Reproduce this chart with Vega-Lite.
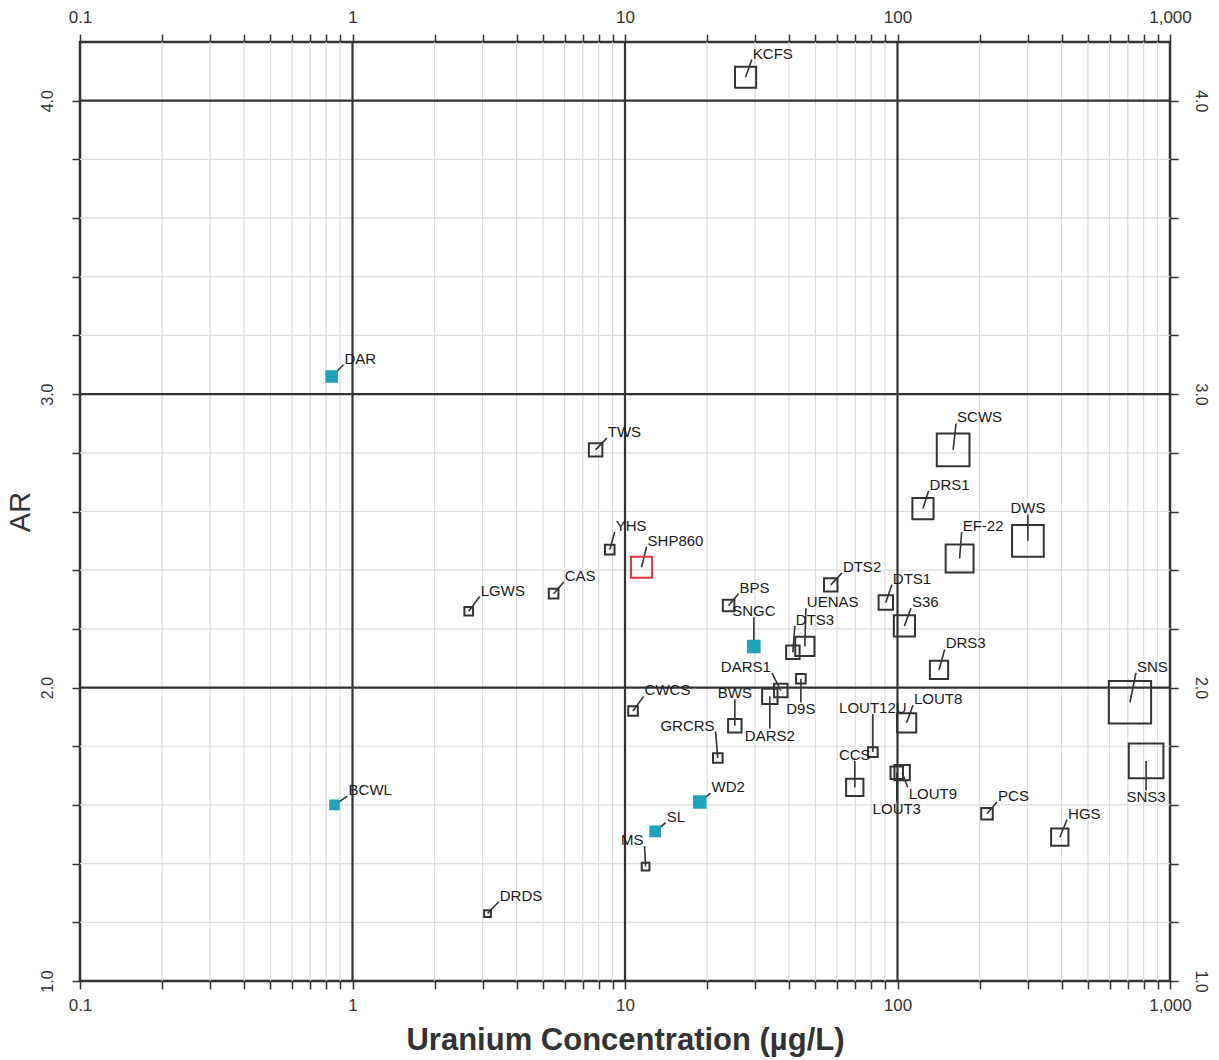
{
  "$schema": "https://vega.github.io/schema/vega-lite/v6.json",
  "width": 1090,
  "height": 939,
  "autosize": "none",
  "padding": {"left": 80, "top": 42, "right": 49, "bottom": 79},
  "background": "white",
  "config": {
    "view": {"stroke": "#333333", "strokeWidth": 2.5},
    "axis": {
      "labelFont": "Liberation Sans",
      "titleFont": "Liberation Sans",
      "labelColor": "#333333",
      "titleColor": "#333333",
      "tickColor": "#333333",
      "tickWidth": 1.5,
      "tickSize": 8,
      "domain": false,
      "grid": false,
      "labelFontSize": 17,
      "labelOverlap": false,
      "labelBound": false,
      "labelFlush": false
    }
  },
  "datasets": {
    "xminor": [
      {"v": 0.2}, {"v": 0.3}, {"v": 0.4}, {"v": 0.5}, {"v": 0.6}, {"v": 0.7}, {"v": 0.8}, {"v": 0.9},
      {"v": 2}, {"v": 3}, {"v": 4}, {"v": 5}, {"v": 6}, {"v": 7}, {"v": 8}, {"v": 9},
      {"v": 20}, {"v": 30}, {"v": 40}, {"v": 50}, {"v": 60}, {"v": 70}, {"v": 80}, {"v": 90},
      {"v": 200}, {"v": 300}, {"v": 400}, {"v": 500}, {"v": 600}, {"v": 700}, {"v": 800}, {"v": 900}
    ],
    "xmajor": [{"v": 1}, {"v": 10}, {"v": 100}],
    "yminor": [
      {"v": 1.2}, {"v": 1.4}, {"v": 1.6}, {"v": 1.8},
      {"v": 2.2}, {"v": 2.4}, {"v": 2.6}, {"v": 2.8},
      {"v": 3.2}, {"v": 3.4}, {"v": 3.6}, {"v": 3.8}
    ],
    "ymajor": [{"v": 2}, {"v": 3}, {"v": 4}],
    "sites": [
      {"site": "KCFS", "conc": 27.7, "ar": 4.08, "magnitude": 22, "kind": "open", "lx": 29.2, "ly": 4.14},
      {"site": "DAR", "conc": 0.838, "ar": 3.06, "magnitude": 11, "kind": "cyan", "lx": 0.927, "ly": 3.10},
      {"site": "TWS", "conc": 7.80, "ar": 2.81, "magnitude": 14, "kind": "open", "lx": 8.57, "ly": 2.85},
      {"site": "YHS", "conc": 8.79, "ar": 2.47, "magnitude": 10, "kind": "open", "lx": 9.17, "ly": 2.53},
      {"site": "SHP860", "conc": 11.5, "ar": 2.41, "magnitude": 22, "kind": "red", "lx": 12.0, "ly": 2.48},
      {"site": "CAS", "conc": 5.47, "ar": 2.32, "magnitude": 10, "kind": "open", "lx": 5.96, "ly": 2.36},
      {"site": "LGWS", "conc": 2.67, "ar": 2.26, "magnitude": 9, "kind": "open", "lx": 2.93, "ly": 2.31},
      {"site": "BPS", "conc": 24.0, "ar": 2.28, "magnitude": 12, "kind": "open", "lx": 26.1, "ly": 2.32},
      {"site": "SNGC", "conc": 29.7, "ar": 2.14, "magnitude": 12, "kind": "cyan", "lx": 29.7, "ly": 2.24},
      {"site": "DTS2", "conc": 56.9, "ar": 2.35, "magnitude": 14, "kind": "open", "lx": 62.5, "ly": 2.39},
      {"site": "UENAS", "conc": 45.7, "ar": 2.14, "magnitude": 20, "kind": "open", "lx": 46.1, "ly": 2.27},
      {"site": "DTS3", "conc": 41.3, "ar": 2.12, "magnitude": 14, "kind": "open", "lx": 42.0, "ly": 2.21},
      {"site": "DTS1", "conc": 90.6, "ar": 2.29, "magnitude": 15, "kind": "open", "lx": 95.3, "ly": 2.35},
      {"site": "S36", "conc": 106, "ar": 2.21, "magnitude": 22, "kind": "open", "lx": 112, "ly": 2.27},
      {"site": "DRS3", "conc": 142, "ar": 2.06, "magnitude": 19, "kind": "open", "lx": 149, "ly": 2.13},
      {"site": "D9S", "conc": 44.2, "ar": 2.03, "magnitude": 10, "kind": "open", "lx": 44.2, "ly": 1.95},
      {"site": "DARS1", "conc": 37.3, "ar": 1.99, "magnitude": 14, "kind": "open", "lx": 34.6, "ly": 2.05},
      {"site": "DARS2", "conc": 34.0, "ar": 1.97, "magnitude": 16, "kind": "open", "lx": 34.0, "ly": 1.86},
      {"site": "BWS", "conc": 25.3, "ar": 1.87, "magnitude": 14, "kind": "open", "lx": 25.3, "ly": 1.96},
      {"site": "GRCRS", "conc": 21.9, "ar": 1.76, "magnitude": 10, "kind": "open", "lx": 21.5, "ly": 1.85},
      {"site": "CWCS", "conc": 10.7, "ar": 1.92, "magnitude": 10, "kind": "open", "lx": 11.7, "ly": 1.97},
      {"site": "WD2", "conc": 18.8, "ar": 1.61, "magnitude": 12, "kind": "cyan", "lx": 20.6, "ly": 1.64},
      {"site": "SL", "conc": 12.9, "ar": 1.51, "magnitude": 10, "kind": "cyan", "lx": 14.1, "ly": 1.54},
      {"site": "MS", "conc": 11.9, "ar": 1.39, "magnitude": 8, "kind": "open", "lx": 11.8, "ly": 1.46},
      {"site": "DRDS", "conc": 3.13, "ar": 1.23, "magnitude": 7, "kind": "open", "lx": 3.44, "ly": 1.27},
      {"site": "BCWL", "conc": 0.859, "ar": 1.60, "magnitude": 9, "kind": "cyan", "lx": 0.959, "ly": 1.63},
      {"site": "LOUT12U", "conc": 81.2, "ar": 1.78, "magnitude": 10, "kind": "open", "lx": 81.2, "ly": 1.91},
      {"site": "CCS", "conc": 69.7, "ar": 1.66, "magnitude": 18, "kind": "open", "lx": 69.7, "ly": 1.75},
      {"site": "LOUT8", "conc": 108, "ar": 1.88, "magnitude": 20, "kind": "open", "lx": 114, "ly": 1.94},
      {"site": "LOUT9", "conc": 104, "ar": 1.71, "magnitude": 16, "kind": "open", "lx": 109, "ly": 1.66},
      {"site": "LOUT3", "conc": 99.4, "ar": 1.71, "magnitude": 13, "kind": "open", "lx": 99.4, "ly": 1.61},
      {"site": "PCS", "conc": 213, "ar": 1.57, "magnitude": 12, "kind": "open", "lx": 232, "ly": 1.61},
      {"site": "HGS", "conc": 394, "ar": 1.49, "magnitude": 18, "kind": "open", "lx": 419, "ly": 1.55},
      {"site": "SNS", "conc": 713, "ar": 1.95, "magnitude": 44, "kind": "open", "lx": 750, "ly": 2.05},
      {"site": "SNS3", "conc": 817, "ar": 1.75, "magnitude": 36, "kind": "open", "lx": 817, "ly": 1.65},
      {"site": "SCWS", "conc": 160, "ar": 2.81, "magnitude": 34, "kind": "open", "lx": 164, "ly": 2.90},
      {"site": "DRS1", "conc": 124, "ar": 2.61, "magnitude": 22, "kind": "open", "lx": 130, "ly": 2.67},
      {"site": "EF-22", "conc": 169, "ar": 2.44, "magnitude": 29, "kind": "open", "lx": 172, "ly": 2.53},
      {"site": "DWS", "conc": 301, "ar": 2.50, "magnitude": 33, "kind": "open", "lx": 301, "ly": 2.59}
    ]
  },
  "resolve": {"axis": {"x": "independent", "y": "independent"}},
  "layer": [
    {
      "data": {"name": "xminor"},
      "mark": {"type": "rule", "stroke": "#dcdcdc", "strokeWidth": 1.2},
      "encoding": {
        "x": {
          "field": "v", "type": "quantitative",
          "scale": {"type": "log", "domain": [0.1, 1000], "nice": false},
          "axis": {
            "orient": "bottom",
            "title": "Uranium Concentration (µg/L)",
            "titleFontSize": 31,
            "titleFontWeight": "bold",
            "titlePadding": 12,
            "labelPadding": 8,
            "values": [0.1,0.2,0.3,0.4,0.5,0.6,0.7,0.8,0.9,1,2,3,4,5,6,7,8,9,10,20,30,40,50,60,70,80,90,100,200,300,400,500,600,700,800,900,1000],
            "format": ",~g",
            "labelExpr": "(datum.value == 0.1 || datum.value == 1 || datum.value == 10 || datum.value == 100 || datum.value == 1000) ? datum.label : ''"
          }
        }
      }
    },
    {
      "data": {"name": "yminor"},
      "mark": {"type": "rule", "stroke": "#dcdcdc", "strokeWidth": 1.2},
      "encoding": {
        "y": {
          "field": "v", "type": "quantitative",
          "scale": {"domain": [1, 4.2], "nice": false, "zero": false},
          "axis": {
            "orient": "left",
            "title": "AR",
            "titleFontSize": 29,
            "titleFontWeight": "normal",
            "titlePadding": 4,
            "labelAngle": -90,
            "labelFontSize": 16,
            "labelPadding": 17,
            "values": [1,1.2,1.4,1.6,1.8,2,2.2,2.4,2.6,2.8,3,3.2,3.4,3.6,3.8,4],
            "format": ".1f",
            "labelExpr": "abs(datum.value - round(datum.value)) < 0.001 ? datum.label : ''"
          }
        }
      }
    },
    {
      "data": {"name": "xmajor"},
      "mark": {"type": "rule", "stroke": "#333333", "strokeWidth": 2.2},
      "encoding": {
        "x": {
          "field": "v", "type": "quantitative",
          "axis": {
            "orient": "top",
            "title": null,
            "labelPadding": 8,
            "values": [0.1,0.2,0.3,0.4,0.5,0.6,0.7,0.8,0.9,1,2,3,4,5,6,7,8,9,10,20,30,40,50,60,70,80,90,100,200,300,400,500,600,700,800,900,1000],
            "format": ",~g",
            "labelExpr": "(datum.value == 0.1 || datum.value == 1 || datum.value == 10 || datum.value == 100 || datum.value == 1000) ? datum.label : ''"
          }
        }
      }
    },
    {
      "data": {"name": "ymajor"},
      "mark": {"type": "rule", "stroke": "#333333", "strokeWidth": 2.2},
      "encoding": {
        "y": {
          "field": "v", "type": "quantitative",
          "axis": {
            "orient": "right",
            "title": null,
            "labelAngle": 90,
            "labelFontSize": 16,
            "labelPadding": 14,
            "values": [1,1.2,1.4,1.6,1.8,2,2.2,2.4,2.6,2.8,3,3.2,3.4,3.6,3.8,4],
            "format": ".1f",
            "labelExpr": "abs(datum.value - round(datum.value)) < 0.001 ? datum.label : ''"
          }
        }
      }
    },
    {
      "data": {"name": "sites"},
      "mark": {"type": "rule", "stroke": "#333333", "strokeWidth": 1.6},
      "encoding": {
        "x": {"field": "conc", "type": "quantitative", "axis": null},
        "y": {"field": "ar", "type": "quantitative", "axis": null},
        "x2": {"field": "lx"},
        "y2": {"field": "ly"}
      }
    },
    {
      "data": {"name": "sites"},
      "mark": {"type": "point", "shape": "square", "strokeWidth": 2, "opacity": 1, "fillOpacity": 1},
      "encoding": {
        "x": {"field": "conc", "type": "quantitative", "axis": null},
        "y": {"field": "ar", "type": "quantitative", "axis": null},
        "size": {"field": "magnitude", "type": "quantitative", "scale": {"type": "pow", "exponent": 2, "domain": [0, 52], "range": [0, 2500]}, "legend": null},
        "fill": {"field": "kind", "type": "nominal", "scale": {"domain": ["open", "cyan", "red"], "range": ["transparent", "#1ea3b8", "transparent"]}, "legend": null},
        "stroke": {"field": "kind", "type": "nominal", "scale": {"domain": ["open", "cyan", "red"], "range": ["#333333", "#1ea3b8", "#e8333a"]}, "legend": null}
      }
    },
    {
      "data": {"name": "sites"},
      "mark": {
        "type": "text",
        "font": "Liberation Sans",
        "fontSize": 15,
        "fill": "#1a1a1a",
        "align": {"expr": "datum.lx > datum.conc ? 'left' : (datum.lx < datum.conc ? 'right' : 'center')"},
        "baseline": {"expr": "datum.ly > datum.ar ? 'bottom' : 'top'"},
        "dx": {"expr": "datum.lx > datum.conc ? 1 : (datum.lx < datum.conc ? -1 : 0)"},
        "dy": {"expr": "datum.ly > datum.ar ? 2 : 0"}
      },
      "encoding": {
        "x": {"field": "lx", "type": "quantitative", "axis": null},
        "y": {"field": "ly", "type": "quantitative", "axis": null},
        "text": {"field": "site", "type": "nominal"}
      }
    }
  ]
}
